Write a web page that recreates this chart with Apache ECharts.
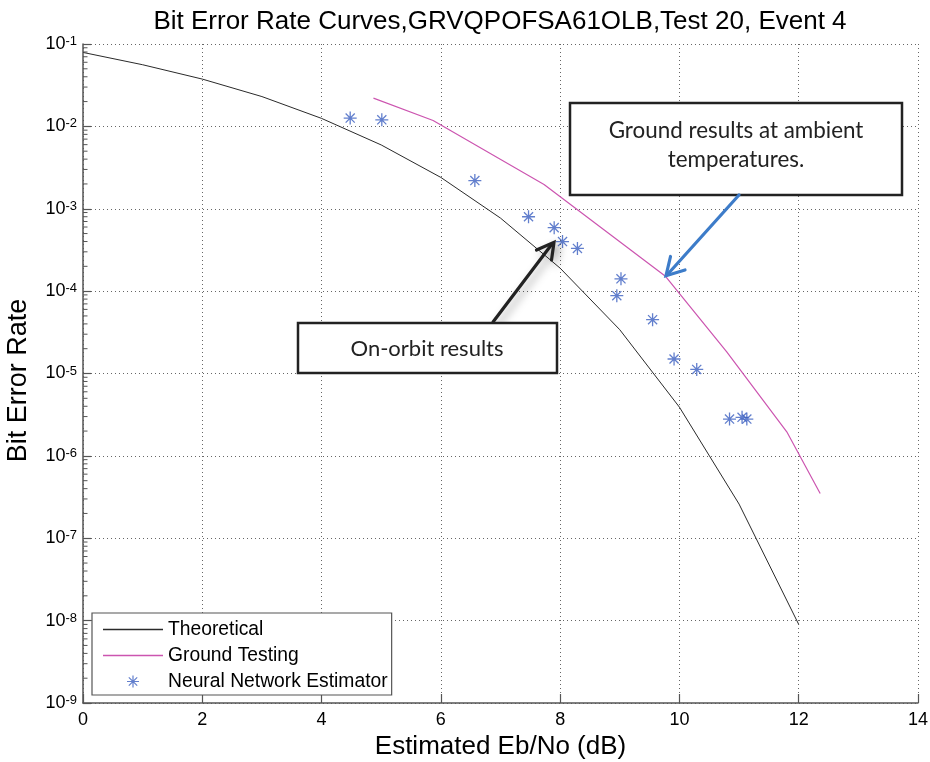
<!DOCTYPE html>
<html>
<head>
<meta charset="utf-8">
<title>Bit Error Rate Curves</title>
<script src="https://cdn.jsdelivr.net/npm/echarts@6/dist/echarts.min.js"></script>
<style>
  html, body { margin: 0; padding: 0; background: #fff; }
  #chart { width: 930px; height: 762px; }
</style>
</head>
<body>
<div id="chart"></div>
<script>
// Theoretical curve (Eb/No in dB, BER)
var theoryX = [0, 1, 2, 3, 4, 5, 6, 7, 8, 9, 10, 11, 12]
var theoryY = [7.9e-2, 5.6e-2, 3.75e-2, 2.3e-2, 1.25e-2, 5.95e-3, 2.4e-3, 7.7e-4, 1.9e-4, 3.4e-5, 3.9e-6, 2.6e-7, 9.0e-9]

// Ground testing curve
var groundX = [4.87, 5.87, 7.73, 9.76, 10.79, 11.80, 12.36]
var groundY = [2.2e-2, 1.18e-2, 1.97e-3, 1.53e-4, 1.84e-5, 1.96e-6, 3.5e-7]

// Neural network estimator points
var nnX = [4.48, 5.01, 6.57, 7.47, 7.90, 8.04, 8.29, 9.02, 8.95, 9.55, 9.91, 10.29, 10.84, 11.05, 11.13]
var nnY = [1.26e-2, 1.2e-2, 2.2e-3, 8.0e-4, 5.9e-4, 4.0e-4, 3.3e-4, 1.41e-4, 8.8e-5, 4.5e-5, 1.5e-5, 1.12e-5, 2.8e-6, 2.94e-6, 2.8e-6]

// minor ticks on the log axis
var minorMantissas = [2, 3, 4, 5, 6, 7, 8, 9]
var minorDecades = [-9, -8, -7, -6, -5, -4, -3, -2]

var titleText = 'Bit Error Rate Curves,GRVQPOFSA61OLB,Test 20, Event 4'

var theoryColor = '#2a2a2a'
var groundColor = '#cc55b0'
var nnColor = '#3b5fc0'

function zip(xs, ys) {
  var out = []
  for (var i = 0; i < xs.length; i++) {
    out.push([xs[i], ys[i]])
  }
  return out
}

var minorTicks = []
minorDecades.forEach(function(d) {
  minorMantissas.forEach(function(m) {
    minorTicks.push([0, m * Math.pow(10, d)])
  })
})

var asterisk = 'path://M-10,-1L10,-1L10,1L-10,1Z' +
  'M-1,-10L1,-10L1,10L-1,10Z' +
  'M-6.3,-7.7L7.7,6.3L6.3,7.7L-7.7,-6.3Z' +
  'M6.3,-7.7L7.7,-6.3L-6.3,7.7L-7.7,6.3Z'
var lineIcon = 'path://M0,0L60,0L60,1.3L0,1.3Z'

var axisColor = '#555'
var font = 'Liberation Sans, Arial, sans-serif'
var noteFont = 'Lato, Calibri, sans-serif'

var chart = echarts.init(document.getElementById('chart'))

chart.setOption({
  animation: false,
  backgroundColor: '#fff',
  title: {
    text: titleText,
    left: 495,
    top: 4,
    textAlign: 'center',
    textStyle: {
      fontFamily: font,
      fontSize: 26,
      fontWeight: 'normal',
      color: '#000'
    }
  },
  grid: {
    left: 83,
    right: 12,
    top: 44,
    bottom: 59,
    containLabel: false,
    outerBoundsMode: 'none'
  },
  legend: {
    data: [
      { name: 'Theoretical', icon: lineIcon, itemStyle: { color: theoryColor } },
      { name: 'Ground Testing', icon: lineIcon, itemStyle: { color: groundColor } },
      { name: 'Neural Network Estimator', icon: asterisk, itemStyle: { color: nnColor } }
    ],
    orient: 'vertical',
    left: 92,
    top: 613,
    itemWidth: 60,
    itemHeight: 12,
    itemGap: 7,
    padding: [7, 4, 4, 11],
    backgroundColor: '#fff',
    borderColor: '#555',
    borderWidth: 1.2,
    borderRadius: 0,
    selectedMode: false,
    textStyle: {
      fontFamily: font,
      fontSize: 19.3,
      color: '#000',
      lineHeight: 19
    }
  },
  xAxis: {
    type: 'value',
    min: 0,
    max: 14,
    interval: 2,
    name: 'Estimated Eb/No (dB)',
    nameLocation: 'middle',
    nameGap: 30,
    nameTextStyle: { fontFamily: font, fontSize: 26, color: '#000' },
    axisLine: { onZero: false, lineStyle: { color: axisColor, width: 1.5 } },
    axisTick: { show: true, inside: true, length: 9, lineStyle: { color: axisColor, width: 1.2 } },
    axisLabel: { fontFamily: font, fontSize: 18, color: '#000', margin: 8 },
    splitLine: { show: true, lineStyle: { color: '#666', type: [1, 3], width: 1 } }
  },
  yAxis: {
    type: 'log',
    logBase: 10,
    min: 1e-9,
    max: 1e-1,
    name: 'Bit Error Rate',
    nameLocation: 'middle',
    nameGap: 51,
    nameTextStyle: { fontFamily: font, fontSize: 27, color: '#000', padding: [0, 14, 0, 0] },
    axisLine: { show: true, lineStyle: { color: axisColor, width: 1.5 } },
    axisTick: { show: true, inside: true, length: 8, lineStyle: { color: axisColor, width: 1.2 } },
    axisLabel: {
      margin: 6,
      formatter: function(v) {
        var e = Math.round(Math.log(v) / Math.LN10)
        return '{b|10}{s|' + e + '}'
      },
      rich: {
        b: { fontFamily: font, fontSize: 18, lineHeight: 18, padding: [5, 0, 5, 0], color: '#000' },
        s: { fontFamily: font, fontSize: 13, lineHeight: 13, verticalAlign: 'top', color: '#000' }
      }
    },
    splitLine: { show: true, lineStyle: { color: '#666', type: [1, 3], width: 1 } }
  },
  series: [
    {
      name: 'Theoretical',
      type: 'line',
      data: zip(theoryX, theoryY),
      symbol: 'none',
      lineStyle: { color: theoryColor, width: 1 },
      itemStyle: { color: theoryColor },
      z: 3
    },
    {
      name: 'Ground Testing',
      type: 'line',
      data: zip(groundX, groundY),
      symbol: 'none',
      lineStyle: { color: groundColor, width: 1.2 },
      itemStyle: { color: groundColor },
      z: 3
    },
    {
      name: 'Neural Network Estimator',
      type: 'scatter',
      data: zip(nnX, nnY),
      symbol: asterisk,
      symbolSize: 13,
      itemStyle: { color: nnColor },
      z: 4
    },
    {
      name: 'minor ticks',
      type: 'custom',
      silent: true,
      data: minorTicks,
      z: 5,
      renderItem: function(params, api) {
        var p = api.coord([api.value(0), api.value(1)])
        return {
          type: 'line',
          shape: { x1: p[0], y1: p[1], x2: p[0] + 4.5, y2: p[1] },
          style: { stroke: axisColor, lineWidth: 1 }
        }
      }
    }
  ],
  graphic: [
    // ground results note
    {
      type: 'rect',
      shape: { x: 570, y: 103, width: 332, height: 92 },
      style: { fill: '#fff', stroke: '#222', lineWidth: 2.5 },
      z: 100
    },
    {
      type: 'text',
      x: 736,
      y: 145,
      style: {
        text: 'Ground results at ambient\ntemperatures.',
        font: '22.4px ' + noteFont,
        fill: '#222',
        align: 'center',
        verticalAlign: 'middle',
        lineHeight: 29
      },
      z: 101
    },
    {
      type: 'polyline',
      shape: { points: [[739, 195], [667, 275]] },
      style: { stroke: '#3d7cc9', lineWidth: 3.2, lineCap: 'round' },
      z: 100
    },
    {
      type: 'polyline',
      shape: { points: [[670.5, 256.5], [666, 275.7], [685, 270]] },
      style: { stroke: '#3d7cc9', lineWidth: 3.2, lineCap: 'round', lineJoin: 'miter', fill: null },
      z: 100
    },
    // on-orbit note
    {
      type: 'rect',
      shape: { x: 298, y: 323, width: 259, height: 50 },
      style: { fill: '#fff', stroke: '#222', lineWidth: 2.5 },
      z: 100
    },
    {
      type: 'text',
      x: 427,
      y: 349,
      style: {
        text: 'On-orbit results',
        font: '22px ' + noteFont,
        fill: '#222',
        align: 'center',
        verticalAlign: 'middle'
      },
      z: 101
    },
    {
      type: 'polyline',
      shape: { points: [[493, 322], [552, 244]] },
      style: {
        stroke: '#222', lineWidth: 3.2, lineCap: 'round',
        shadowBlur: 8, shadowColor: 'rgba(0,0,0,0.35)', shadowOffsetX: 4, shadowOffsetY: 4
      },
      z: 99
    },
    {
      type: 'polyline',
      shape: { points: [[536.5, 250], [554, 242.3], [551.5, 260]] },
      style: {
        stroke: '#222', lineWidth: 3.2, lineCap: 'round', fill: null,
        shadowBlur: 8, shadowColor: 'rgba(0,0,0,0.35)', shadowOffsetX: 4, shadowOffsetY: 4
      },
      z: 99
    }
  ]
})
</script>
</body>
</html>
